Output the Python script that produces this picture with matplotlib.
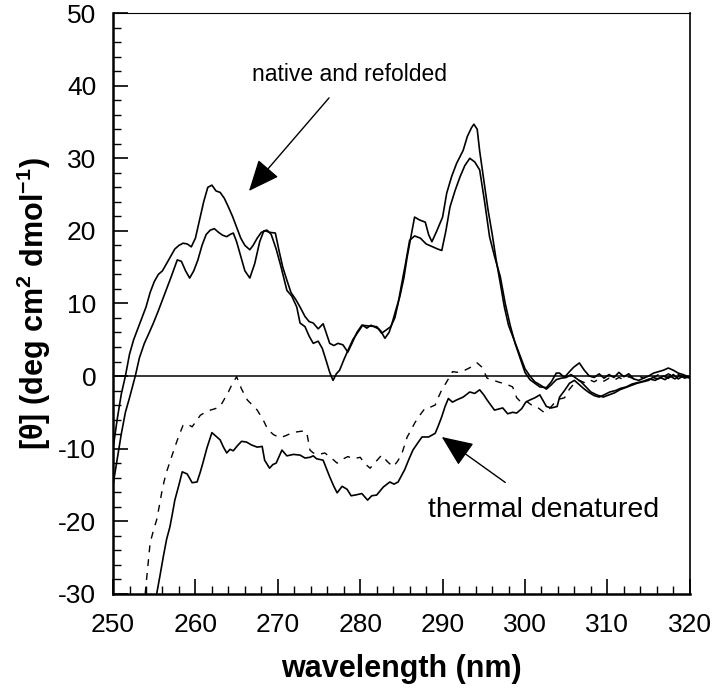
import matplotlib
matplotlib.use("Agg")
import matplotlib.pyplot as plt
from matplotlib.ticker import MultipleLocator

# Lettertype (Arial-achtig)
plt.rcParams['font.family'] = ['Liberation Sans', 'DejaVu Sans']
plt.rcParams['mathtext.fontset'] = 'custom'
plt.rcParams['mathtext.rm'] = 'Liberation Sans'
plt.rcParams['mathtext.bf'] = 'Liberation Sans:bold'
plt.rcParams['axes.unicode_minus'] = False

# Native (hoogste piek bij 262 en 294 nm)
native1_x = [250.0, 250.5, 251.0, 251.5, 252.0, 252.5, 253.0, 253.5, 254.0, 254.5,
             255.0, 255.5, 256.0, 256.5, 257.0, 257.5, 258.0, 258.5, 259.0, 259.5,
             260.0, 260.5, 261.0, 261.5, 262.0, 262.5, 263.0, 263.5, 264.0, 264.5,
             265.0, 265.5, 266.0, 266.6, 267.0, 267.5, 268.0, 268.5, 269.0, 269.7,
             270.2, 270.6, 271.1, 271.6, 272.2, 272.7, 273.3, 273.8, 274.3, 274.9,
             275.5, 276.0, 276.3, 276.8, 277.3, 277.9, 278.5, 279.0, 279.6, 280.2,
             281.0, 282.0, 282.5, 283.0, 283.5, 283.8, 284.3, 284.8, 285.3, 285.7,
             286.2, 286.6, 287.2, 287.9, 288.3, 288.7, 289.3, 290.0, 290.5, 291.1,
             291.7, 292.5, 293.0, 293.5, 293.8, 294.2, 294.5, 295.0, 295.5, 296.0,
             296.5, 297.0, 297.5, 298.0, 298.5, 299.0, 299.5, 300.0, 300.6, 301.2,
             301.8, 302.6, 303.2, 303.8, 304.4, 305.0, 305.6, 306.2, 306.8, 307.4,
             308.0, 308.7, 309.5, 310.2, 310.9, 311.5, 312.2, 312.9, 313.6, 314.3,
             315.0, 315.5, 316.2, 316.8, 317.4, 318.0, 318.6, 319.2, 320.0]
native1_y = [-10, -6, -2.5, 0, 3, 5, 6.5, 8, 9.5, 11.5,
             13, 14, 14.5, 15.5, 16.5, 17.5, 18, 18.3, 18.2, 17.8,
             19, 21.5, 24, 26, 26.3, 25.5, 25.3, 24.5, 23.3, 22,
             20.5, 19, 18, 17.4, 18, 19, 19.8, 20, 19.8, 19.7,
             17, 15, 13.2, 11.5, 10.5, 9.5, 8.2, 7.5, 7.3, 6.5,
             7.2, 5.5, 4.5, 4.2, 4.5, 4.3, 3.3, 4.5, 6, 7,
             6.9, 6.8, 6.2, 5.2, 6, 7, 9, 10.9, 13.5, 16.4,
             19.5, 21.9, 21.5, 21.2, 19.5, 18.5, 20, 21.9, 25.2, 27.5,
             29.3, 31.1, 33, 34.2, 34.7, 34, 31, 27, 23, 19.7,
             16, 12.8, 9.5, 7, 5.5, 4, 2.5, 1, 0, -0.8,
             -1.2, -1.8, -1.2, -0.5, -0.3, -0.2, 0.2, -0.3, -0.8, -1.5,
             -2.2, -2.6, -2.9, -2.6, -2.3, -1.9, -1.6, -1.3, -1.0, -0.8,
             -0.6, -0.2, -0.4, 0, -0.3, 0.2, -0.4, 0, -0.3]

# Refolded
native2_x = [250.0, 250.5, 251.0, 251.5, 252.0, 252.7, 253.2, 253.8, 254.4, 254.9,
             255.5, 256.0, 256.5, 257.0, 257.8, 258.3, 258.8, 259.3, 259.8, 260.3,
             260.8, 261.3, 261.8, 262.3, 262.8, 263.3, 263.8, 264.2, 264.6, 265.0,
             265.5, 266.0, 266.6, 267.2, 267.8, 268.3, 268.7, 269.2, 269.8, 270.4,
             271.1, 271.7, 272.3, 272.7, 273.3, 273.8, 274.3, 274.9, 275.4, 275.9,
             276.3, 276.7, 277.1, 277.5, 278.0, 278.5, 279.1, 279.7, 280.3, 280.8,
             281.3, 281.7, 282.2, 282.6, 283.1, 283.7, 284.2, 284.6, 285.0, 285.5,
             286.0, 286.6, 287.3, 288.0, 288.8, 289.4, 289.9, 290.4, 290.9, 291.5,
             292.1, 292.7, 293.3, 293.9, 294.5, 295.1, 295.7, 296.3, 297.0, 297.6,
             298.2, 298.8, 299.4, 300.0, 300.6, 301.2, 301.8, 302.6, 303.2, 303.8,
             304.2, 304.8, 305.4, 305.9, 306.6, 307.2, 307.8, 308.4, 309.0, 309.6,
             310.2, 310.8, 311.4, 312.0, 312.6, 313.2, 313.8, 314.4, 315.0, 315.6,
             316.2, 316.8, 317.4, 318.0, 318.6, 319.2, 320.0]
native2_y = [-15, -11.5, -8, -5, -3, 0, 2.5, 4.5, 6, 7.3,
             9, 10.5, 12, 13.5, 16, 15.8, 14.5, 13.5, 14.5, 16,
             18, 19.5, 20.1, 20.3, 19.8, 19.4, 19.2, 19.5, 19.7, 18.5,
             16.5, 14.5, 13.5, 15.5, 18.5, 20, 20.1, 19.5, 17.5, 15,
             11.8, 11, 9.5, 7.3, 6.8, 5.5, 4.5, 4.8, 3.8, 2,
             0.5, -0.6, 0.3, 0.8, 2.2, 3.5, 5, 6, 7, 6.6,
             7, 6.8, 6.5, 5.9, 6.3, 6.8, 8, 10, 12.5, 15.5,
             18.7, 19.3, 19, 18.2, 17.8, 17.5, 17.3, 20, 23.3, 25.5,
             27.4, 29, 30, 29.5, 28.4, 24, 19.2, 16.5, 13.7, 10,
             7, 4.5, 2.5, 0.5, -0.5, -1, -1.5, -1.6, -0.8, 0.4,
             0.4, -0.2, 0.6, 1.2, 1.8, 0.8, 0, -0.2, 0.3, -0.3,
             0.2, -0.2, 0.5, -0.1, 0.3, -0.4, -0.6, -0.3, 0, 0.4,
             0.6, 0.8, 1.1, 0.8, 0.4, 0.2, -0.2]

# Thermisch gedenatureerd (doorgetrokken)
thermal_x = [255.3, 255.7, 256.1, 256.5, 256.9, 257.2, 257.5, 258.0, 258.4, 259.0,
             259.6, 260.2, 260.6, 260.9, 261.4, 262.0, 262.5, 263.0, 263.4, 263.8,
             264.2, 264.6, 265.1, 265.6, 266.2, 266.8, 267.5, 268.1, 268.4, 269.0,
             269.4, 269.8, 270.5, 271.1, 271.9, 272.7, 273.3, 273.9, 274.3, 274.7,
             275.5, 276.3, 276.8, 277.2, 277.8, 278.4, 278.9, 279.4, 280.2, 280.9,
             281.4, 282.0, 282.8, 283.6, 284.1, 284.6, 285.4, 285.9, 286.4, 287.0,
             287.5, 288.3, 289.1, 289.5, 289.9, 290.3, 290.7, 291.2, 291.7, 292.5,
             293.3, 293.9, 294.5, 295.0, 295.4, 296.3, 297.3, 297.9, 298.5, 299.0,
             299.6, 300.1, 300.6, 301.2, 301.8, 302.2, 302.6, 303.2, 303.9, 304.2,
             304.8, 305.4, 306.0, 306.6, 307.2, 307.8, 308.4, 309.0, 309.6, 310.3,
             311.0, 311.6, 312.3, 313.0, 313.7, 314.4, 315.1, 315.8, 316.4, 317.0,
             317.6, 318.2, 318.8, 319.4, 320.0]
thermal_y = [-30, -27.5, -24.9, -22.5, -20.8, -19, -17.1, -15, -13.2, -13.5,
             -14.7, -14.6, -13.2, -12, -9.9, -7.8, -8.3, -8.8, -9.8, -10.6,
             -10.1, -10.3, -9.6, -9, -9.1, -9.5, -9.8, -9.7, -11.6, -12.7,
             -12.2, -12, -10.2, -11, -10.8, -10.9, -11.3, -11.2, -11, -11.4,
             -11.6, -13.9, -15.2, -16.1, -15.2, -15.6, -16.5, -16.4, -16.2, -17.1,
             -16.5, -16.4, -15.3, -14.6, -14.9, -14.6, -12.9, -11.5, -10.2, -9.2,
             -8.4, -8.4, -7.9, -6.8, -5.6, -4.2, -3.1, -3.6, -3.3, -2.9,
             -2.2, -2.4, -1.9, -2.6, -3.3, -4.7, -4.4, -5.2, -5, -5.1,
             -4.5, -3.6, -3.3, -3.0, -2.6, -3.4, -4.2, -4.4, -4.2, -2.9,
             -2, -1, -0.6, -1.2, -1.8, -2.3, -2.7, -2.9, -2.6, -2.2,
             -2.0, -1.7, -1.5, -1.1, -0.9, -0.7, -0.4, -0.6, -0.2, -0.5,
             0, -0.4, 0.1, -0.3, 0]

# Thermisch gedenatureerd (gestreept)
dashed_x = [253.9, 254.2, 254.5, 254.9, 255.3, 255.6, 255.9, 256.2, 256.5, 257.0,
            257.5, 258.0, 258.5, 259.0, 259.6, 260.1, 260.6, 261.2, 261.8, 262.4,
            263.0, 263.5, 264.0, 264.5, 265.0, 265.6, 266.3, 266.9, 267.5, 268.2,
            268.8, 269.5, 270.3, 271.0, 271.6, 272.3, 272.9, 273.5, 273.9, 274.3,
            275.0, 275.7, 276.5, 277.2, 277.8, 278.5, 279.2, 280.0, 280.6, 281.2,
            281.9, 282.6, 283.3, 284.0, 284.5, 285.0, 285.7, 286.2, 286.6, 287.3,
            287.9, 288.5, 289.1, 289.5, 289.9, 290.5, 291.2, 291.9, 292.7, 293.4,
            294.2, 294.8, 295.4, 296.0, 296.7, 297.3, 297.9, 298.5, 299.0, 299.6,
            300.2, 300.8, 301.5, 302.3, 302.9, 303.5, 304.1, 304.8, 305.4, 306.0,
            306.6, 307.2, 307.8, 308.4, 309.0, 309.6, 310.2, 310.8, 311.4, 312.0,
            312.6, 313.2, 313.8, 314.4, 315.0, 315.6, 316.2, 316.8, 317.4, 318.0,
            318.6, 319.2, 320.0]
dashed_y = [-30, -26.5, -23, -21.3, -19.8, -18, -16.1, -14.5, -13.2, -11.5,
            -9.8, -8.2, -6.8, -6.6, -7, -6.2, -5.4, -5, -4.7, -4.5,
            -4.2, -3.2, -2.2, -1, -0.1, -1.8, -3.3, -4, -4.7, -6,
            -7.4, -8.1, -8.5, -8.2, -7.9, -7.7, -7.6, -7.7, -10.2, -10.6,
            -10.8, -10.6, -11.3, -12, -11.5, -11.1, -11.4, -11.2, -12.1, -12.7,
            -11.8, -10.9, -11.8, -12.5, -11.8, -10.9, -8.4, -7.4, -6.5, -5.3,
            -4.4, -4.3, -4, -2.9, -1.9, -0.8, 0.6, 0.5, 0.8, 1.2,
            1.8, 1.2, -0.3, -0.5, -0.8, -1, -1.2, -1.5, -3, -3.7,
            -3.5, -4, -4.3, -5, -4.6, -3.8, -3.2, -3, -1.8, -1,
            -0.6, -0.9, -0.5, -0.8, -0.4, -0.7, -0.3, -0.6, -0.2, -0.5,
            -0.1, -0.4, 0, -0.3, 0.1, -0.2, 0.2, -0.1, 0.3, 0,
            0.2, -0.1, 0]

x_ticks = [250, 260, 270, 280, 290, 300, 310, 320]
y_ticks = [-30, -20, -10, 0, 10, 20, 30, 40, 50]

fig = plt.figure(figsize=(7.2, 6.92), dpi=100)
ax = fig.add_axes([0.157, 0.142, 0.801, 0.839])

ax.plot(native1_x, native1_y, color="black", lw=1.2)
ax.plot(native2_x, native2_y, color="black", lw=1.2)
ax.plot(thermal_x, thermal_y, color="black", lw=1.2)
ax.plot(dashed_x, dashed_y, color="black", lw=1.0, linestyle=(0, (5, 5)))
ax.axhline(0, color="black", lw=1.1)

ax.set_xlim(250, 320)
ax.set_ylim(-30, 50)
ax.set_xticks(x_ticks)
ax.set_yticks(y_ticks)
ax.xaxis.set_minor_locator(MultipleLocator(2))
ax.yaxis.set_minor_locator(MultipleLocator(2))
ax.tick_params(which="both", direction="in", top=False, right=False, color="black")
ax.tick_params(which="major", length=11, width=1.2)
ax.tick_params(which="minor", length=5.5, width=1.0)
ax.tick_params(axis="x", labelsize=19, pad=14)
ax.tick_params(axis="y", labelsize=19, pad=12)

ax.spines["left"].set_linewidth(1.8)
ax.spines["bottom"].set_linewidth(1.8)
ax.spines["right"].set_linewidth(1.2)
ax.spines["top"].set_linewidth(0.8)

ax.set_xlabel("wavelength (nm)", fontsize=22, fontweight="bold", labelpad=12)
ax.set_ylabel("[θ] (deg cm$^{\\mathbf{2}}$ dmol$^{\\mathbf{-1}}$)", fontsize=22,
              fontweight="bold", labelpad=4)

# Pijlen met tekst
ax.annotate("native and refolded", xy=(266.5, 25.5), xytext=(278.7, 41.6),
            fontsize=16.5, ha="center", va="center",
            arrowprops=dict(arrowstyle="-|>,head_length=0.65,head_width=0.28",
                            mutation_scale=30, color="black", lw=1.0,
                            shrinkA=9, shrinkB=0))
ax.annotate("thermal denatured", xy=(289.9, -8.4), xytext=(302.2, -18.4),
            fontsize=20.5, ha="center", va="center",
            arrowprops=dict(arrowstyle="-|>,head_length=0.65,head_width=0.28",
                            mutation_scale=30, color="black", lw=1.0,
                            shrinkA=14, shrinkB=0))

plt.savefig("out.png", dpi=100)
